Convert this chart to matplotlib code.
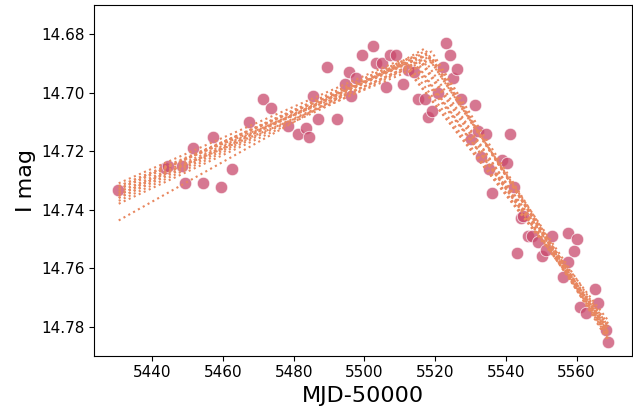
import matplotlib
matplotlib.use("Agg")
import matplotlib.pyplot as plt

# observed light curve (MJD-50000, I mag)
mjd = [5430.4, 5443.7, 5444.5, 5448.5, 5449.3, 5451.5, 5454.4, 5457.2, 5459.4, 5462.5,
       5467.3, 5471.3, 5473.5, 5478.3, 5481.1, 5483.4, 5484.2, 5485.4, 5487.0, 5489.3,
       5492.1, 5494.4, 5495.5, 5496.3, 5497.5, 5499.2, 5502.3, 5503.4, 5505.1, 5506.2,
       5507.3, 5509.0, 5511.0, 5512.4, 5514.1, 5515.2, 5517.2, 5518.0, 5519.2, 5520.8,
       5522.3, 5523.1, 5524.2, 5525.1, 5526.2, 5527.3, 5530.1, 5531.3, 5532.1, 5533.0,
       5534.4, 5535.2, 5536.1, 5538.9, 5540.3, 5541.1, 5542.3, 5544.2, 5544.8, 5546.2,
       5547.3, 5543.1, 5549.0, 5550.1, 5551.3, 5553.0, 5557.7, 5560.0, 5559.2, 5557.5,
       5556.1, 5565.1, 5561.1, 5562.8, 5566.2, 5568.2, 5569.0]
imag = [14.7332, 14.7257, 14.7251, 14.7251, 14.7309, 14.7189, 14.7309, 14.7152, 14.7322, 14.7261,
        14.7100, 14.7022, 14.7053, 14.7114, 14.7141, 14.7121, 14.7152, 14.7012, 14.7090, 14.6913,
        14.7090, 14.6971, 14.6930, 14.7012, 14.6950, 14.6872, 14.6841, 14.6899, 14.6899, 14.6981,
        14.6872, 14.6872, 14.6971, 14.6923, 14.6930, 14.7022, 14.7022, 14.7083, 14.7063, 14.7001,
        14.6913, 14.6831, 14.6872, 14.6950, 14.6919, 14.7022, 14.7158, 14.7042, 14.7131, 14.7220,
        14.7141, 14.7261, 14.7343, 14.7230, 14.7240, 14.7141, 14.7322, 14.7428, 14.7421, 14.7489,
        14.7489, 14.7547, 14.7510, 14.7558, 14.7537, 14.7489, 14.7479, 14.7500, 14.7541, 14.7578,
        14.7629, 14.7670, 14.7732, 14.7752, 14.7718, 14.7810, 14.7851]

# broken-line model samples: start, break and end of each curve
t_start = 5430.5
t_end = 5569.0
t_break = [5510, 5512, 5513, 5514, 5515, 5516, 5516, 5517, 5518, 5518, 5519, 5520, 5517, 5514, 5511, 5519]
m_break = [14.689, 14.690, 14.688, 14.689, 14.688, 14.687, 14.689, 14.686, 14.687, 14.688,
           14.688, 14.689, 14.685, 14.691, 14.690, 14.686]
m_start = [14.731, 14.732, 14.733, 14.734, 14.735, 14.736, 14.737, 14.733, 14.735, 14.736,
           14.738, 14.734, 14.7437, 14.732, 14.733, 14.735]
m_end = [14.779, 14.780, 14.781, 14.782, 14.783, 14.784, 14.781, 14.782, 14.783, 14.780,
         14.784, 14.785, 14.782, 14.778, 14.780, 14.783]

fig, ax = plt.subplots(figsize=(6.33, 4.16), dpi=100)
fig.subplots_adjust(left=0.149, right=0.998, top=0.988, bottom=0.145)

ax.scatter(mjd, imag, s=80, color='#c9496c', alpha=0.75, edgecolor='w', linewidth=0.6, zorder=2)

for tb, mb, m0, m1 in zip(t_break, m_break, m_start, m_end):
    ax.plot([t_start, tb, t_end], [m0, mb, m1], ':', color='#e8875f', lw=1.5, zorder=3)

ax.set_xlim(5423.6, 5575.6)
ax.set_ylim(14.7899, 14.6701)
ax.set_yticks([14.68, 14.70, 14.72, 14.74, 14.76, 14.78])
ax.tick_params(labelsize=11)
ax.set_xlabel('MJD-50000', fontsize=16)
ax.set_ylabel('I mag', fontsize=16)

fig.savefig('out.png', dpi=100)
